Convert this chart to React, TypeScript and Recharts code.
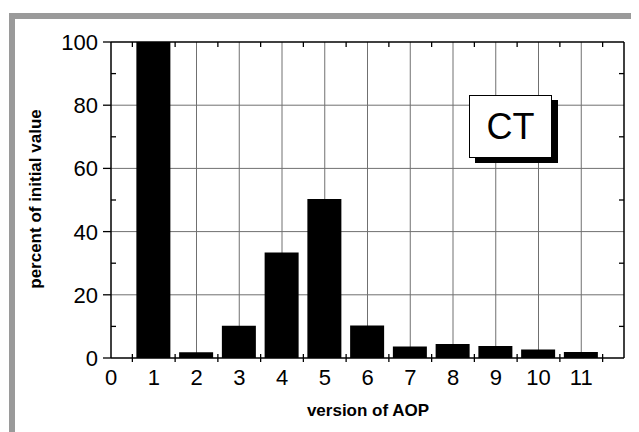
import React from 'react';
import { BarChart, Bar, XAxis, YAxis, CartesianGrid } from 'recharts';

const versions = [1, 2, 3, 4, 5, 6, 7, 8, 9, 10, 11];
const percentValues = [100, 1.8, 10.2, 33.4, 50.3, 10.3, 3.6, 4.4, 3.8, 2.7, 1.9];
const xLabelTicks = [0, 1, 2, 3, 4, 5, 6, 7, 8, 9, 10, 11];
const xMinorTicks = [0.5, 1.5, 2.5, 3.5, 4.5, 5.5, 6.5, 7.5, 8.5, 9.5, 10.5, 11.5];
const yMajorTicks = [0, 20, 40, 60, 80, 100];
const yMinorTicks = [10, 30, 50, 70, 90];
const gridXValues = [1, 2, 3, 4, 5, 6, 7, 8, 9, 10, 11];
const gridYValues = [20, 40, 60, 80];
const yTitle = 'percent of initial value';
const xTitle = 'version of AOP';
const boxLabel = 'CT';

const data = versions.map((v, i) => ({ version: v, percent: percentValues[i] }));
const xBottomTicks = [...xLabelTicks, ...xMinorTicks].sort((a, b) => a - b);
const yLeftTicks = [...yMajorTicks, ...yMinorTicks].sort((a, b) => a - b);

const FONT = '"Liberation Sans", Arial, Helvetica, sans-serif';

const BottomTick = (props: any) => {
  const { x, y, payload } = props;
  const v = payload.value;
  if (Number.isInteger(v)) {
    return (
      <text x={x} y={y + 27} textAnchor="middle" fontSize={22} fontFamily={FONT} fill="#000">
        {v}
      </text>
    );
  }
  return <line x1={x} x2={x} y1={y - 4} y2={y + 4} stroke="#000" strokeWidth={1.3} />;
};

const TopTick = (props: any) => {
  const { x, y } = props;
  return <line x1={x} x2={x} y1={y} y2={y + 5} stroke="#000" strokeWidth={1.3} />;
};

const LeftTick = (props: any) => {
  const { x, y, payload } = props;
  const v = payload.value;
  if (yMajorTicks.includes(v)) {
    return (
      <g>
        <line x1={x - 8} x2={x} y1={y} y2={y} stroke="#000" strokeWidth={1.3} />
        <text x={x - 13} y={y} dy="0.36em" textAnchor="end" fontSize={22} fontFamily={FONT} fill="#000">
          {v}
        </text>
      </g>
    );
  }
  return <line x1={x} x2={x + 5} y1={y} y2={y} stroke="#000" strokeWidth={1.3} />;
};

const RightTick = (props: any) => {
  const { x, y } = props;
  return <line x1={x - 5} x2={x} y1={y} y2={y} stroke="#000" strokeWidth={1.3} />;
};

export default function App() {
  return (
    <div style={{ position: 'relative', width: 631, height: 424, overflow: 'hidden', background: '#fff' }}>
      <div
        style={{
          position: 'absolute',
          left: 1,
          top: 5,
          width: 700,
          height: 500,
          borderLeft: '6px solid #9a9a9a',
          borderTop: '6px solid #9a9a9a',
        }}
      />
      <div style={{ position: 'absolute', left: 0, top: 0 }}>
        <BarChart
          width={631}
          height={424}
          data={data}
          margin={{ top: 24, right: 5, bottom: 44, left: 43 }}
        >
          <CartesianGrid
            xAxisId="b"
            yAxisId="l"
            verticalValues={gridXValues}
            horizontalValues={gridYValues}
            stroke="#707070"
            strokeWidth={1}
          />
          <XAxis
            xAxisId="b"
            dataKey="version"
            type="number"
            domain={[0, 12]}
            ticks={xBottomTicks}
            interval={0}
            height={30}
            tickSize={0}
            tickMargin={0}
            tickLine={false}
            axisLine={{ stroke: '#000', strokeWidth: 1.5 }}
            tick={BottomTick}
            allowDataOverflow
          />
          <XAxis
            xAxisId="t"
            orientation="top"
            dataKey="version"
            type="number"
            domain={[0, 12]}
            ticks={xMinorTicks}
            interval={0}
            height={10}
            tickSize={0}
            tickMargin={0}
            tickLine={false}
            axisLine={{ stroke: '#000', strokeWidth: 1.5 }}
            tick={TopTick}
            allowDataOverflow
          />
          <YAxis
            yAxisId="l"
            type="number"
            domain={[0, 100]}
            ticks={yLeftTicks}
            interval={0}
            width={60}
            tickSize={0}
            tickMargin={0}
            tickLine={false}
            axisLine={{ stroke: '#000', strokeWidth: 1.5 }}
            tick={LeftTick}
            allowDataOverflow
          />
          <YAxis
            yAxisId="r"
            orientation="right"
            type="number"
            domain={[0, 100]}
            ticks={yMinorTicks}
            interval={0}
            width={10}
            tickSize={0}
            tickMargin={0}
            tickLine={false}
            axisLine={{ stroke: '#000', strokeWidth: 1.5 }}
            tick={RightTick}
            allowDataOverflow
          />
          <Bar
            xAxisId="b"
            yAxisId="l"
            dataKey="percent"
            fill="#000"
            barSize={34}
            isAnimationActive={false}
          />
        </BarChart>
      </div>
      <div
        style={{
          position: 'absolute',
          left: 28 - 120,
          top: 191 - 12,
          width: 240,
          height: 24,
          lineHeight: '24px',
          textAlign: 'center',
          transform: 'rotate(-90deg)',
          fontFamily: FONT,
          fontWeight: 'bold',
          fontSize: 17,
          color: '#000',
          whiteSpace: 'nowrap',
        }}
      >
        {yTitle}
      </div>
      <div
        style={{
          position: 'absolute',
          left: 360 - 120,
          top: 403 - 12,
          width: 240,
          height: 24,
          lineHeight: '24px',
          textAlign: 'center',
          fontFamily: FONT,
          fontWeight: 'bold',
          fontSize: 17,
          color: '#000',
          whiteSpace: 'nowrap',
        }}
      >
        {xTitle}
      </div>
      <div
        style={{
          position: 'absolute',
          left: 461,
          top: 87,
          width: 83,
          height: 63,
          boxSizing: 'border-box',
          border: '1px solid #000',
          background: '#fff',
          boxShadow: '6px 5px 0 #000',
          display: 'flex',
          alignItems: 'center',
          justifyContent: 'center',
          fontFamily: FONT,
          fontSize: 36,
          lineHeight: 1,
          color: '#000',
        }}
      >
        {boxLabel}
      </div>
    </div>
  );
}
